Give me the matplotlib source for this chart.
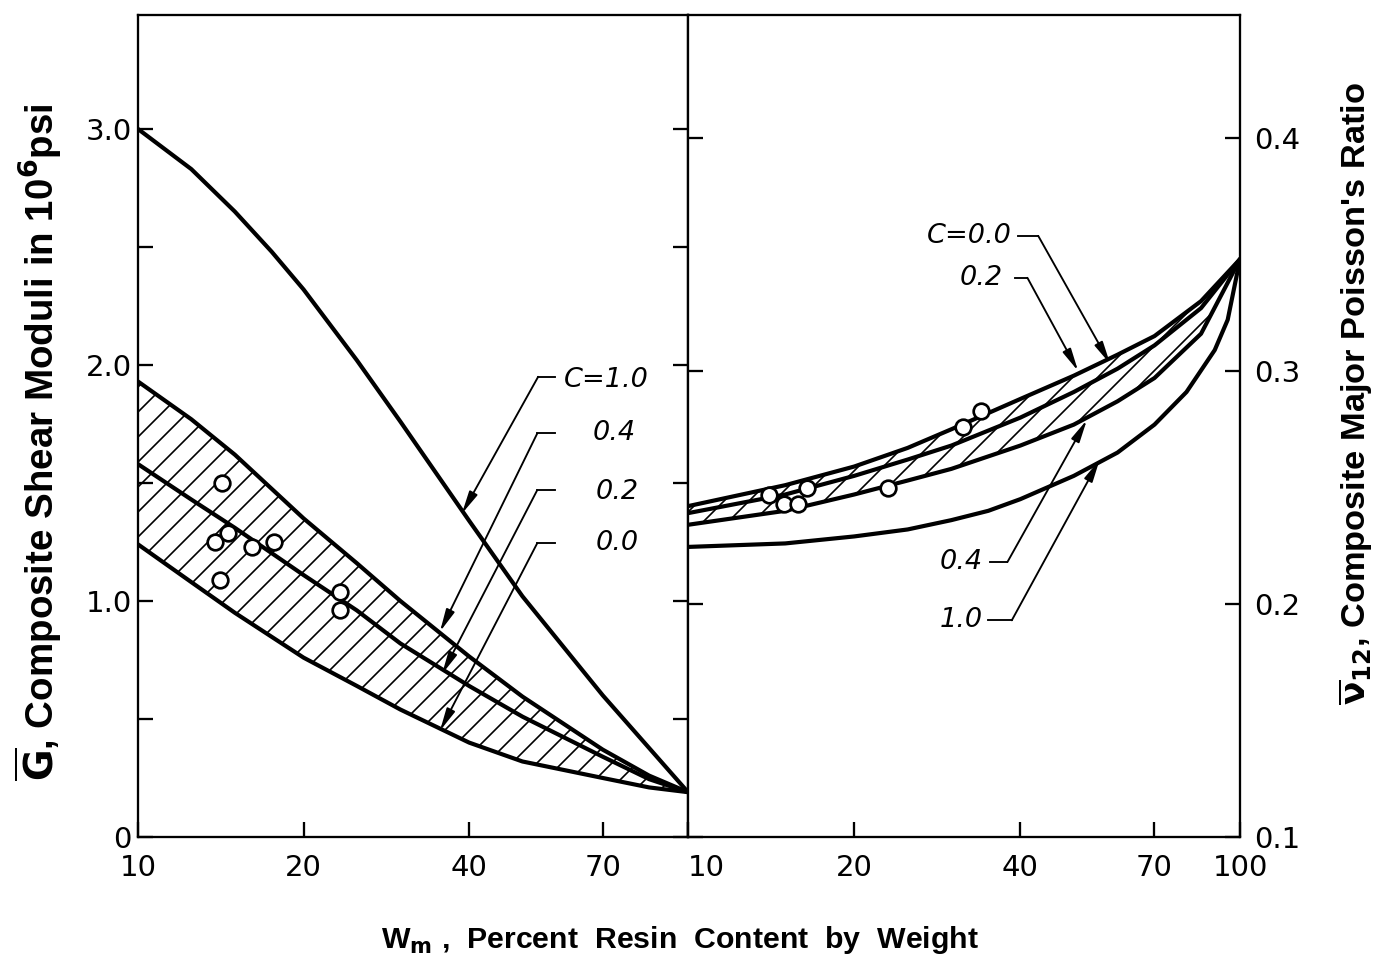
import matplotlib
matplotlib.use("Agg")
import matplotlib.pyplot as plt
from matplotlib.ticker import FixedLocator, FixedFormatter, NullLocator

plt.rcParams['font.family'] = ['DejaVu Sans']
plt.rcParams['mathtext.fontset'] = 'dejavusans'
plt.rcParams['hatch.linewidth'] = 0.8

LABEL_FONT = ['Liberation Sans Narrow', 'Liberation Sans', 'DejaVu Sans']

# left panel: composite shear modulus (10^6 psi) vs resin content (% by weight)
g_c10_x = [10, 12.5, 15, 17.5, 20, 25, 30, 40, 50, 70, 100]
g_c10 = [3.0, 2.83, 2.65, 2.48, 2.32, 2.02, 1.76, 1.34, 1.02, 0.60, 0.19]
g_band_x = [10, 12.5, 15, 20, 25, 30, 40, 50, 70, 85, 100]
g_c04 = [1.93, 1.77, 1.62, 1.35, 1.16, 1.00, 0.765, 0.595, 0.37, 0.26, 0.19]
g_c02 = [1.58, 1.43, 1.31, 1.11, 0.96, 0.82, 0.64, 0.51, 0.34, 0.245, 0.19]
g_c00 = [1.24, 1.08, 0.95, 0.76, 0.64, 0.54, 0.40, 0.32, 0.25, 0.21, 0.19]
g_pts_x = [14.2, 13.8, 14.6, 16.1, 17.7, 14.1, 23.3, 23.3]
g_pts_y = [1.50, 1.25, 1.29, 1.23, 1.25, 1.09, 1.04, 0.96]

# right panel: composite major Poisson's ratio
nu_band_x = [10, 15, 20, 25, 30, 40, 50, 60, 70, 85, 100]
nu_c00 = [0.242, 0.251, 0.259, 0.267, 0.275, 0.288, 0.298, 0.307, 0.315, 0.330, 0.348]
nu_c02 = [0.239, 0.247, 0.255, 0.262, 0.268, 0.280, 0.291, 0.301, 0.311, 0.327, 0.348]
nu_c04 = [0.234, 0.240, 0.247, 0.253, 0.258, 0.268, 0.277, 0.287, 0.297, 0.316, 0.348]
nu_c10_x = [10, 15, 20, 25, 30, 35, 40, 50, 60, 70, 80, 90, 95, 100]
nu_c10 = [0.2245, 0.226, 0.229, 0.232, 0.236, 0.240, 0.245, 0.255, 0.265, 0.277,
          0.291, 0.309, 0.322, 0.348]
nu_pts_x = [14.0, 14.9, 15.8, 16.4, 23.0, 31.5, 34.0]
nu_pts_y = [0.247, 0.243, 0.243, 0.250, 0.250, 0.276, 0.283]

x_ticks = [10, 20, 40, 70, 100]

W, H, DPI = 1383, 964, 150
fig = plt.figure(figsize=(W / DPI, H / DPI), dpi=DPI)
ax1 = fig.add_axes([138 / W, 127 / H, 550 / W, 822 / H])
ax2 = fig.add_axes([688 / W, 127 / H, 552 / W, 822 / H])

curve = dict(color='black', lw=2.0, solid_capstyle='round', solid_joinstyle='round', zorder=3)
marker = dict(ls='none', marker='o', ms=7.5, mfc='white', mec='black', mew=1.3, zorder=5)


def leader(ax, label, tip, knee, seg_end, text_pos, ha):
    ax.annotate('', xy=tip, xytext=knee,
                arrowprops=dict(arrowstyle='-|>,head_length=0.9,head_width=0.18',
                                color='black', lw=0.9, shrinkA=0, shrinkB=0),
                zorder=6)
    ax.plot([knee[0], seg_end[0]], [knee[1], seg_end[1]], color='black', lw=0.9)
    ax.text(text_pos[0], text_pos[1], label, ha=ha, va='center',
            fontsize=13, style='italic')


# ---- left panel ----
ax1.fill_between(g_band_x, g_c00, g_c04, facecolor='none', edgecolor='black',
                 hatch='//', linewidth=0, zorder=1)
ax1.plot(g_c10_x, g_c10, **curve)
ax1.plot(g_band_x, g_c04, **curve)
ax1.plot(g_band_x, g_c02, **curve)
ax1.plot(g_band_x, g_c00, **curve)
ax1.plot(g_pts_x, g_pts_y, **marker)

leader(ax1, 'C=1.0', (38.8, 1.37), (53.4, 1.95), (57.2, 1.95), (59.5, 1.935), 'left')
leader(ax1, '0.4', (35.4, 0.87), (53.2, 1.71), (57.2, 1.71), (67.2, 1.71), 'left')
leader(ax1, '0.2', (35.7, 0.69), (53.2, 1.47), (57.2, 1.47), (67.9, 1.46), 'left')
leader(ax1, '0.0', (35.4, 0.45), (53.2, 1.245), (57.2, 1.245), (67.9, 1.245), 'left')

ax1.set_xscale('log')
ax1.set_xlim(10, 100)
ax1.set_ylim(0, 3.483)
ax1.xaxis.set_major_locator(FixedLocator(x_ticks))
ax1.xaxis.set_major_formatter(FixedFormatter(['10', '20', '40', '70', '']))
ax1.xaxis.set_minor_locator(NullLocator())
ax1.yaxis.set_major_locator(FixedLocator([0, 1, 2, 3]))
ax1.yaxis.set_major_formatter(FixedFormatter(['0', '1.0', '2.0', '3.0']))
ax1.yaxis.set_minor_locator(FixedLocator([0.5, 1.5, 2.5]))
ax1.tick_params(axis='both', which='both', direction='in', length=7, width=1.1,
                labelsize=14, left=True, right=True, top=False)
ax1.tick_params(axis='y', pad=3)
ax1.tick_params(axis='x', pad=8)
ax1.set_ylabel(r'$\overline{\mathbf{G}}$, Composite Shear Moduli in 10$^{\mathbf{6}}$psi',
               fontsize=18.5, fontweight='bold', family=LABEL_FONT)
ax1.yaxis.set_label_coords(-0.135, 0.48)

# ---- right panel ----
ax2.fill_between(nu_band_x, nu_c04, nu_c00, facecolor='none', edgecolor='black',
                 hatch='//', linewidth=0, zorder=1)
ax2.plot(nu_band_x, nu_c00, **curve)
ax2.plot(nu_band_x, nu_c02, **curve)
ax2.plot(nu_band_x, nu_c04, **curve)
ax2.plot(nu_c10_x, nu_c10, **curve)
ax2.plot(nu_pts_x, nu_pts_y, **marker)

leader(ax2, 'C=0.0', (58.2, 0.303), (43.1, 0.358), (39.6, 0.358), (38.6, 0.358), 'right')
leader(ax2, '0.2', (50.9, 0.300), (41.2, 0.340), (39.1, 0.340), (37.2, 0.340), 'right')
leader(ax2, '0.4', (52.8, 0.279), (37.9, 0.218), (35.2, 0.218), (34.2, 0.218), 'right')
leader(ax2, '1.0', (55.7, 0.262), (38.6, 0.193), (35.0, 0.193), (34.2, 0.193), 'right')

ax2.set_xscale('log')
ax2.set_xlim(10, 100)
ax2.set_ylim(0.1, 0.4528)
ax2.xaxis.set_major_locator(FixedLocator(x_ticks))
ax2.xaxis.set_major_formatter(FixedFormatter(['10', '20', '40', '70', '100']))
ax2.xaxis.set_minor_locator(NullLocator())
ax2.yaxis.set_major_locator(FixedLocator([0.1, 0.2, 0.3, 0.4]))
ax2.yaxis.set_major_formatter(FixedFormatter(['0.1', '0.2', '0.3', '0.4']))
ax2.yaxis.set_minor_locator(NullLocator())
ax2.tick_params(axis='both', which='both', direction='in', length=7, width=1.1,
                labelsize=14, left=True, right=True, top=False,
                labelleft=False, labelright=True)
ax2.tick_params(axis='y', pad=7)
ax2.tick_params(axis='x', pad=8)
ax2.get_xticklabels()[0].set_horizontalalignment('left')
ax2.yaxis.set_label_position('right')
ax2.set_ylabel(r"$\overline{\mathbf{\nu}}_{\mathbf{12}}$, Composite Major Poisson's Ratio",
               fontsize=16.5, fontweight='bold', rotation=90, family=LABEL_FONT)
ax2.yaxis.set_label_coords(1.175, 0.54)

for ax in (ax1, ax2):
    for sp in ax.spines.values():
        sp.set_linewidth(1.1)

fig.text(680 / W, 1 - 940 / H, r'W$_{\mathbf{m}}$ ,  Percent  Resin  Content  by  Weight',
         ha='center', va='center', fontsize=14.5, fontweight='bold', family=LABEL_FONT)

fig.savefig('out.png', dpi=DPI)
